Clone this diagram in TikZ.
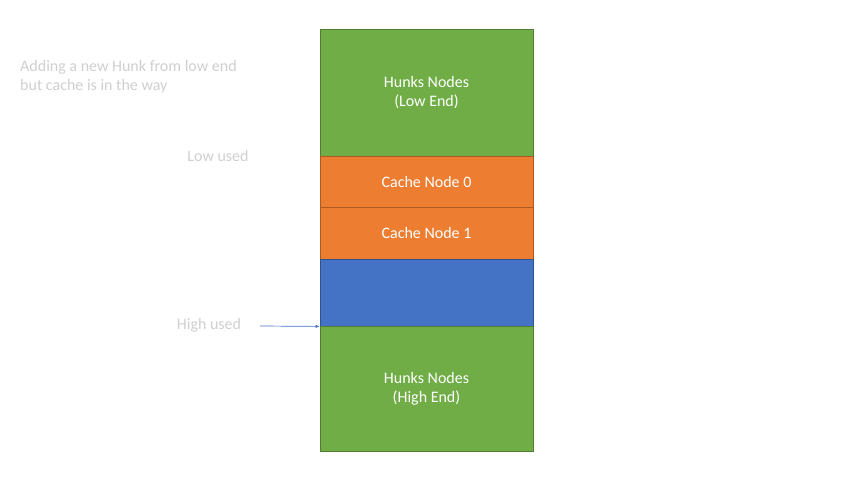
\documentclass[tikz,border=0pt]{standalone}
\usepackage{fontspec}
\setmainfont{Carlito}
\usetikzlibrary{arrows.meta}
\usepackage{xcolor}
\definecolor{hunkgreen}{HTML}{70AD47}
\definecolor{hunkgreenline}{HTML}{507E32}
\definecolor{cacheorange}{HTML}{ED7D31}
\definecolor{cacheorangeline}{HTML}{AE5A21}
\definecolor{usedblue}{HTML}{4472C4}
\definecolor{usedblueline}{HTML}{2F528F}
\definecolor{faintnote}{HTML}{CFCFCF}

\begin{document}
\begin{tikzpicture}[x=1pt, y=-1pt, >=Latex,
  blk/.style={rectangle, draw, line width=0.8pt, minimum width=213pt, inner sep=0pt, align=center,
    text=white, font=\fontsize{16}{19}\selectfont},
  hunk/.style={blk, fill=hunkgreen, draw=hunkgreenline},
  cache/.style={blk, fill=cacheorange, draw=cacheorangeline},
  used/.style={blk, fill=usedblue, draw=usedblueline},
  note/.style={align=left, inner sep=0pt, text=faintnote, font=\fontsize{16}{19}\selectfont},
  edge/.style={->, line width=0.7pt, draw=usedblue, arrows={-Latex[length=4pt, width=3.5pt]}}
]
\useasboundingbox (0,0) rectangle (853,480);
\node[hunk, minimum height=127pt] (lowend) at (426.5,92.5) {Hunks Nodes\\(Low End)};
\node[cache, minimum height=51pt] (cache0) at (426.5,181.5) {Cache Node 0};
\node[cache, minimum height=52pt] (cache1) at (426.5,233) {Cache Node 1};
\node[used, minimum height=67pt] (highused) at (426.5,292.5) {};
\node[hunk, minimum height=125pt] (highend) at (426.5,388.5) {Hunks Nodes\\(High End)};
\node[note, anchor=west] (adding) at (20,77) {Adding a new Hunk from low end\\but cache is in the way};
\node[note] (lowlbl) at (218,156) {Low used};
\node[note] (highlbl) at (209,325) {High used};
\coordinate (arrowtail) at (260,326);
\draw[edge] (arrowtail) -- (highused.south west);
\end{tikzpicture}
\end{document}
